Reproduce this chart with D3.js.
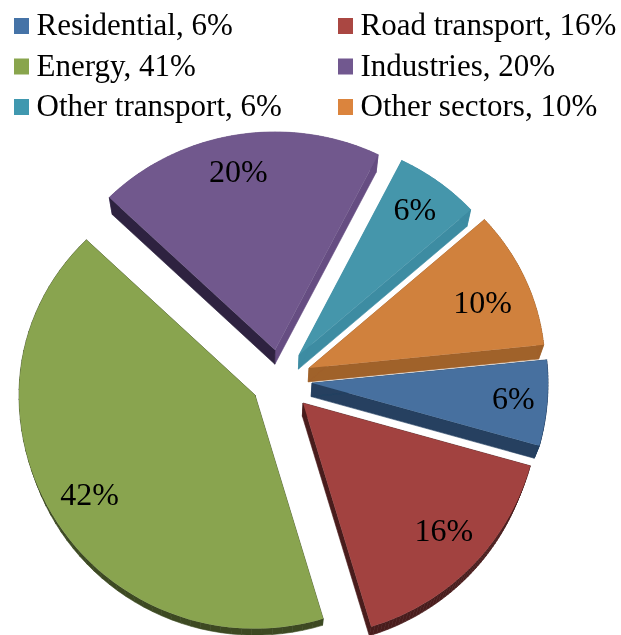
<!DOCTYPE html>
<html>
<head>
<meta charset="utf-8">
<script src="https://d3js.org/d3.v7.min.js"></script>
<style>
html, body { margin: 0; padding: 0; background: #fff; }
svg { display: block; }
text { font-family: "Liberation Serif", serif; fill: #000; }
.legend text { font-size: 31px; }
.label { font-size: 32px; text-anchor: middle; dominant-baseline: central; }
</style>
</head>
<body>
<svg id="chart" width="621" height="635"></svg>
<script>
// data
var categories = ["Residential", "Road transport", "Energy", "Industries", "Other transport", "Other sectors"];
var legendValues = [6, 16, 41, 20, 6, 10];
var sliceValues = [6, 16, 42, 20, 6, 10];

// colours
var swatchColors = ["#4573a7", "#aa4643", "#89a54e", "#71588f", "#4198af", "#db843d"];
var faceColors = ["#46709f", "#a24341", "#89a450", "#71598d", "#4596ab", "#d0813e"];
var frontWallColors = ["#254061", "#4a1c1c", "#3c4a22", "#2e2340", "#3d8ca2", "#a0622a"];
var sideWallColors = ["#254061", "#4a1c1c", "#3c4a22", "#664e82", "#3d8ca2", "#a0622a"];

// layout: how far each slice is pulled out of the pie
var explodeX = [26, 17, -31, -11, 13, 23];
var explodeY = [7, 27, 19, -26, -21, -8];
var sliceRadius = [236, 236, 236, 232, 231, 236];
var sliceDepth = [0.0186, 0.0186, 0.0135, 0.0186, 0.0186, 0.0186];
var labelNudgeX = [12, 5, -3, -5, 1, 0];
var labelNudgeY = [-1, -5, 2, -3, -4, 7];
var drawOrder = [3, 4, 2, 5, 0, 1];

var cx = 286, cy = 376, labelRadius = 190;
var squashUp = 0.94, squashDown = 0.99;
var vanishX = 268, vanishY = 1114;

var svg = d3.select("#chart");

var defs = svg.append("defs");
defs.append("filter").attr("id", "soft")
    .append("feGaussianBlur").attr("stdDeviation", 0.5);
defs.append("filter").attr("id", "soft2")
    .append("feGaussianBlur").attr("stdDeviation", 0.35);

var pie = d3.pie().sort(null)
    .startAngle(84 * Math.PI / 180)
    .endAngle(444 * Math.PI / 180);
var arcs = pie(sliceValues);

function project(angle, r, i) {
    var x = Math.sin(angle) * r;
    var y = -Math.cos(angle) * r;
    y = y * (y < 0 ? squashUp : squashDown);
    return [cx + explodeX[i] + x, cy + explodeY[i] + y];
}

function lower(p, i) {
    return [p[0] + sliceDepth[i] * (vanishX - p[0]), p[1] + sliceDepth[i] * (vanishY - p[1])];
}

function outline(d, i) {
    var pts = [project(0, 0, i)];
    d3.range(0, 61).forEach(function(k) {
        var a = d.startAngle + (d.endAngle - d.startAngle) * k / 60;
        pts.push(project(a, sliceRadius[i], i));
    });
    pts.push(pts[0]);
    return pts;
}

var line = d3.line();
var pieGroup = svg.append("g").attr("filter", "url(#soft)");

function wallPiece(a, b, i, color) {
    pieGroup.append("path")
        .attr("d", line([a, b, lower(b, i), lower(a, i)]) + "Z")
        .attr("fill", color)
        .attr("stroke", color)
        .attr("stroke-width", 0.6);
}

drawOrder.forEach(function(i) {
    var pts = outline(arcs[i], i);
    // arc and end edge first, the start edge goes over them
    for (var k = pts.length - 2; k >= 1; k--) {
        wallPiece(pts[k], pts[k + 1], i, sideWallColors[i]);
    }
    wallPiece(pts[0], pts[1], i, frontWallColors[i]);
    pieGroup.append("path")
        .attr("d", line(pts) + "Z")
        .attr("fill", faceColors[i]);
});

// slice labels
svg.append("g").attr("filter", "url(#soft2)")
    .selectAll("text")
    .data(arcs)
    .enter().append("text")
    .attr("class", "label")
    .attr("x", function(d, i) { return project((d.startAngle + d.endAngle) / 2, labelRadius, i)[0] + labelNudgeX[i]; })
    .attr("y", function(d, i) { return project((d.startAngle + d.endAngle) / 2, labelRadius, i)[1] + labelNudgeY[i]; })
    .text(function(d) { return d.value + "%"; });

// legend, filled across then down
var legendX = d3.scalePoint().domain([0, 1]).range([14, 338]);
var legendY = d3.scalePoint().domain([0, 1, 2]).range([35, 116]);

var legend = svg.append("g").attr("class", "legend").attr("filter", "url(#soft2)")
    .selectAll("g")
    .data(categories)
    .enter().append("g")
    .attr("transform", function(d, i) {
        return "translate(" + legendX(i % 2) + "," + legendY(Math.floor(i / 2)) + ")";
    });

legend.append("rect")
    .attr("x", 0)
    .attr("y", -17)
    .attr("width", 15)
    .attr("height", 16)
    .attr("fill", function(d, i) { return swatchColors[i]; });

legend.append("text")
    .attr("x", 22.5)
    .attr("y", 0)
    .text(function(d, i) { return d + ", " + legendValues[i] + "%"; });
</script>
</body>
</html>
